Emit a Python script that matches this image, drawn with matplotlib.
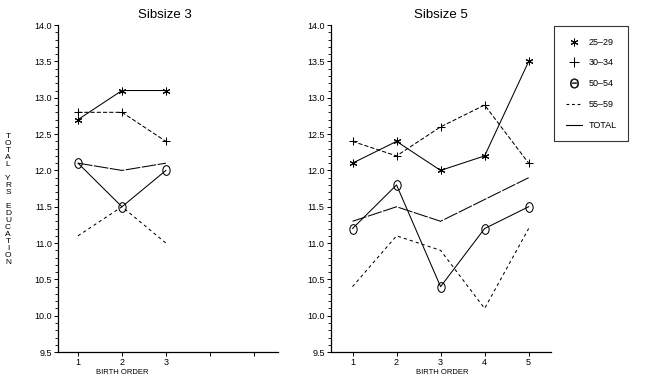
import matplotlib
matplotlib.use("Agg")
import matplotlib.pyplot as plt
from matplotlib.markers import MarkerStyle
from matplotlib.transforms import Affine2D
from matplotlib.lines import Line2D
from matplotlib.ticker import MultipleLocator

plt.rcParams['font.family'] = ['Liberation Sans', 'DejaVu Sans']

series = ["25-29", "30-34", "50-54", "55-59", "TOTAL"]
legend_labels = ["25\u201329", "30\u201334", "50\u201354", "55\u201359", "TOTAL"]
birth3 = [1, 2, 3]
sib3 = {
    "25-29": [12.7, 13.1, 13.1],
    "30-34": [12.8, 12.8, 12.4],
    "50-54": [12.1, 11.5, 12.0],
    "55-59": [11.1, 11.5, 11.0],
    "TOTAL": [12.1, 12.0, 12.1],
}
birth5 = [1, 2, 3, 4, 5]
sib5 = {
    "25-29": [12.1, 12.4, 12.0, 12.2, 13.5],
    "30-34": [12.4, 12.2, 12.6, 12.9, 12.1],
    "50-54": [11.2, 11.8, 10.4, 11.2, 11.5],
    "55-59": [10.4, 11.1, 10.9, 10.1, 11.2],
    "TOTAL": [11.3, 11.5, 11.3, 11.6, 11.9],
}
yticks = [9.5, 10.0, 10.5, 11.0, 11.5, 12.0, 12.5, 13.0, 13.5, 14.0]

oval = MarkerStyle('o', fillstyle='none', transform=Affine2D().scale(0.75, 1.0))
star = (6, 2, 0)
styles = {
    "25-29": dict(ls='-', marker=star, ms=5.5),
    "30-34": dict(ls=(0, (4, 2)), marker='+', ms=6),
    "50-54": dict(ls='-', marker=oval, ms=7),
    "55-59": dict(ls=(0, (3, 3)), marker=None),
    "TOTAL": dict(ls=(0, (14, 1.5)), marker=None),
}

fig = plt.figure(figsize=(6.54, 3.81), dpi=100)
ax1 = fig.add_axes([0.0887, 0.076, 0.336, 0.858])
ax2 = fig.add_axes([0.506, 0.076, 0.336, 0.858])

def setup(ax, xlim, labels):
    ax.set_xlim(*xlim)
    ax.set_ylim(9.5, 14.0)
    ax.spines['top'].set_visible(False)
    ax.spines['right'].set_visible(False)
    for s in ('left', 'bottom'):
        ax.spines[s].set_linewidth(0.9)
    ax.set_yticks(yticks)
    ax.set_yticklabels([f"{v:.1f}" for v in yticks], fontsize=6.5)
    ax.yaxis.set_minor_locator(MultipleLocator(0.1))
    ax.set_xticks([1, 2, 3, 4, 5])
    ax.set_xticklabels(labels, fontsize=6.5)
    ax.tick_params(axis='both', which='major', length=3, width=0.7, pad=1.5)
    ax.tick_params(axis='y', which='minor', length=2, width=0.6)

setup(ax1, (0.545, 5.545), ["1", "2", "3", "", ""])
setup(ax2, (0.51, 5.5), ["1", "2", "3", "4", "5"])

for ax, xs, data in ((ax1, birth3, sib3), (ax2, birth5, sib5)):
    for name in series:
        st = styles[name]
        ax.plot(xs, data[name], color='black', lw=0.75, ls=st['ls'],
                marker=st['marker'], ms=st.get('ms', 6), mew=0.75,
                mfc='none', mec='black')

fig.text(165 / 654, 1 - 15 / 381, "Sibsize 3", ha='center', va='center', fontsize=9.5)
fig.text(441 / 654, 1 - 15 / 381, "Sibsize 5", ha='center', va='center', fontsize=9.5)
fig.text(122 / 654, 1 - 373 / 381, "BIRTH ORDER", ha='center', va='center', fontsize=5.5)
fig.text(442 / 654, 1 - 373 / 381, "BIRTH ORDER", ha='center', va='center', fontsize=5.5)

ylabel = "TOTAL YRS EDUCATION"
for i, ch in enumerate(ylabel):
    if ch != ' ':
        fig.text(8 / 654, 1 - (136 + i * 7.05) / 381, ch, ha='center', va='center', fontsize=6)

handles = [
    Line2D([], [], ls='none', marker=star, ms=5.5, color='black', mew=0.75),
    Line2D([], [], ls='none', marker='+', ms=7, color='black', mew=0.75),
    Line2D([], [], ls='none', marker=MarkerStyle('$\\Theta$'), ms=7, color='black', mew=0.2),
    Line2D([], [], ls=(0, (2.5, 2.5)), lw=0.8, color='black'),
    Line2D([], [], ls='-', lw=0.8, color='black'),
]
leg = fig.legend(handles, legend_labels, loc='upper left',
                 bbox_to_anchor=(554 / 654, 1 - 26 / 381), fontsize=6.5,
                 frameon=True, fancybox=False, edgecolor='black',
                 handlelength=1.8, handletextpad=0.7, labelspacing=1.3,
                 borderpad=1.3, borderaxespad=0)
leg.get_frame().set_linewidth(0.8)
for t in leg.get_texts():
    t.set_fontsize(6.5)

fig.savefig("out.png", dpi=100)
